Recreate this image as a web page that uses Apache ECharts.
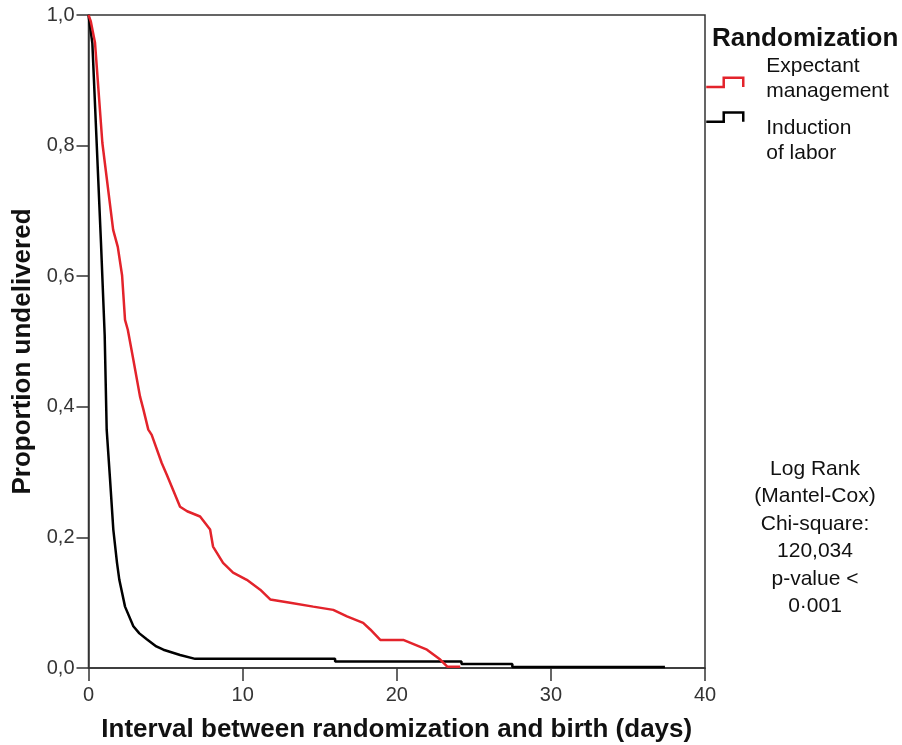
<!DOCTYPE html>
<html>
<head>
<meta charset="utf-8">
<script src="https://cdn.jsdelivr.net/npm/echarts@6/dist/echarts.min.js"></script>
<style>html,body{margin:0;padding:0;background:#fff}#c{width:902px;height:745px}</style>
</head>
<body>
<div id="c"></div>
<script>
// Expectant management (red)
const daysExpectant = [0, 0.15, 0.42, 0.9, 1.6, 1.9, 2.18, 2.37, 2.55, 2.91, 3.34, 3.56, 3.88, 4.10, 4.75, 5.08, 5.94, 6.4, 7.24, 7.89, 8.08, 8.73, 9.38, 10.27, 11.14, 11.79, 13.08, 14.58, 15.88, 16.77, 17.82, 18.28, 18.93, 20.42, 21.96, 22.82, 23.28, 24.12];
const survExpectant = [1.0, 0.99, 0.958, 0.804, 0.671, 0.645, 0.601, 0.533, 0.518, 0.472, 0.416, 0.396, 0.365, 0.357, 0.314, 0.296, 0.247, 0.240, 0.232, 0.212, 0.186, 0.161, 0.146, 0.135, 0.120, 0.105, 0.100, 0.094, 0.089, 0.079, 0.069, 0.059, 0.043, 0.043, 0.028, 0.013, 0.002, 0.002];
// Induction of labor (black)
const daysInduction = [0, 0.25, 0.53, 0.81, 1.05, 1.18, 1.40, 1.61, 1.85, 2.0, 2.37, 2.91, 3.3, 3.78, 4.4, 4.86, 5.94, 6.92, 16.0, 16.0, 24.2, 24.2, 27.5, 27.5, 37.4];
const survInduction = [1.0, 0.957, 0.804, 0.651, 0.51, 0.365, 0.288, 0.212, 0.161, 0.135, 0.094, 0.064, 0.053, 0.044, 0.033, 0.028, 0.020, 0.014, 0.014, 0.010, 0.010, 0.006, 0.006, 0.0015, 0.0015];
const seriesNames = ['Expectant management', 'Induction of labor'];
const legendLines = [['Expectant', 'management'], ['Induction', 'of labor']];
const xTicks = [0, 10, 20, 30, 40];
const yTicks = [0, 0.2, 0.4, 0.6, 0.8, 1.0];
const statsText = ['Log Rank', '(Mantel-Cox)', 'Chi-square:', '120,034', 'p-value <', '0\u00b7001'];

const RED = '#e3232b';
const zip = (a, b) => a.map((v, i) => [v, b[i]]);
const FONT = 'Liberation Sans, Arial, sans-serif';
const stepIcon = 'path://M0,10 L17,10 L17,1 L36,1 L36,10';

const chart = echarts.init(document.getElementById('c'), null, {renderer: 'canvas'});
const legendText = (spacerH) => ({
  fontFamily: FONT, fontSize: 21, color: '#111', padding: [0, 0, 0, 18],
  rich: {
    t: {fontFamily: FONT, fontSize: 21, lineHeight: 25.5, color: '#111'},
    s: {fontSize: 1, lineHeight: spacerH}
  }
});
const legendBase = {
  orient: 'vertical', left: 705, padding: 0, itemWidth: 37, itemHeight: 10, selectedMode: false,
  icon: stepIcon
};
chart.setOption({
  animation: false,
  backgroundColor: '#fff',
  title: {
    text: 'Randomization', left: 712, top: 26, padding: 0,
    textStyle: {fontFamily: FONT, fontSize: 26, fontWeight: 'bold', color: '#111'}
  },
  legend: [
    Object.assign({}, legendBase, {
      top: 55.5,
      data: [{name: seriesNames[0], itemStyle: {color: 'rgba(0,0,0,0)', borderColor: RED, borderWidth: 2.5}}],
      formatter: () => '{t|' + legendLines[0][0] + '}\n{t|' + legendLines[0][1] + '}\n{s| }',
      textStyle: legendText(7)
    }),
    Object.assign({}, legendBase, {
      top: 91,
      data: [{name: seriesNames[1], itemStyle: {color: 'rgba(0,0,0,0)', borderColor: '#000', borderWidth: 2.5}}],
      formatter: () => '{s| }\n{t|' + legendLines[1][0] + '}\n{t|' + legendLines[1][1] + '}',
      textStyle: legendText(47)
    })
  ],
  grid: {left: 88.5, right: 197, top: 15, bottom: 77, show: true, borderColor: '#333', borderWidth: 1.5,
    containLabel: false, outerBoundsMode: 'none'},
  xAxis: {
    type: 'value', min: 0, max: 40, interval: 10,
    name: 'Interval between randomization and birth (days)',
    nameLocation: 'middle', nameGap: 49,
    nameTextStyle: {fontFamily: FONT, fontSize: 26, fontWeight: 'bold', color: '#111'},
    axisLine: {show: true, lineStyle: {color: '#333', width: 1.5}},
    axisTick: {show: true, length: 13, lineStyle: {color: '#333', width: 1.5}},
    axisLabel: {margin: 17, fontFamily: FONT, fontSize: 20, color: '#333',
      formatter: v => xTicks.includes(v) ? String(v) : ''},
    splitLine: {show: false}
  },
  yAxis: {
    type: 'value', min: 0, max: 1, interval: 0.2,
    name: 'Proportion undelivered',
    nameLocation: 'middle', nameGap: 52,
    nameTextStyle: {fontFamily: FONT, fontSize: 26, fontWeight: 'bold', color: '#111', padding: [0, 20, 0, 0]},
    axisLine: {show: true, lineStyle: {color: '#333', width: 1.5}},
    axisTick: {show: true, length: 12, lineStyle: {color: '#333', width: 1.5}},
    axisLabel: {margin: 14, fontFamily: FONT, fontSize: 20, color: '#333',
      formatter: v => yTicks.some(t => Math.abs(t - v) < 1e-9) ? v.toFixed(1).replace('.', ',') : ''},
    splitLine: {show: false}
  },
  graphic: [{
    type: 'text', x: 815, y: 455,
    style: {
      text: statsText.join('\n'), align: 'center', verticalAlign: 'top',
      fontFamily: FONT, fontSize: 21, lineHeight: 27.5, fill: '#111'
    }
  }],
  series: [
    {name: seriesNames[0], type: 'line', data: zip(daysExpectant, survExpectant), showSymbol: false, symbol: 'none',
      lineStyle: {color: RED, width: 2.5}, itemStyle: {color: RED}, z: 3},
    {name: seriesNames[1], type: 'line', data: zip(daysInduction, survInduction), showSymbol: false, symbol: 'none',
      lineStyle: {color: '#000', width: 2.5}, itemStyle: {color: '#000'}, z: 2}
  ]
});
</script>
</body>
</html>
